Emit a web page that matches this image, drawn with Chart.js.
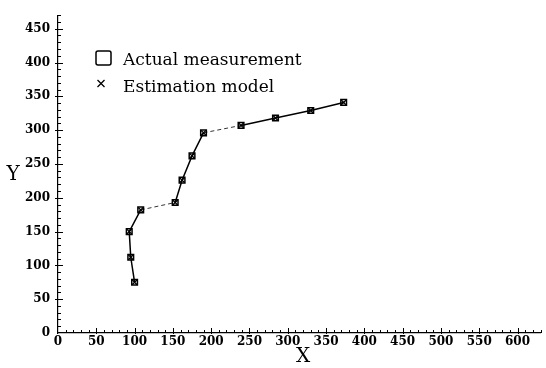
<!DOCTYPE html>
<html>
<head>
<meta charset="utf-8">
<script src="https://cdn.jsdelivr.net/npm/chart.js@4/dist/chart.umd.min.js"></script>
<style>
  html, body { margin: 0; padding: 0; background: #fff; }
  #wrap { width: 546px; height: 368px; position: relative; }
</style>
</head>
<body>
<div id="wrap"><canvas id="chart"></canvas></div>
<script>
// measured points and model points (X, Y)
const xMeasured = [100, 95, 93, 108, 153, 162, 175, 190, 239, 284, 330, 373];
const yMeasured = [75, 112, 150, 182, 193, 226, 262, 296, 307, 318, 329, 341];
const xModel = [100, 95, 93, 108, 153, 162, 175, 190, 239, 284, 330, 373];
const yModel = [75, 112, 150, 182, 193, 226, 262, 296, 307, 318, 329, 341];

// segments drawn dashed (index of segment start)
const dashedSegments = [3, 7];

const legendLabels = ["Actual measurement", "Estimation model"];
const xTickValues = [0, 50, 100, 150, 200, 250, 300, 350, 400, 450, 500, 550, 600];
const yTickValues = [0, 50, 100, 150, 200, 250, 300, 350, 400, 450];
const xRange = [0, 630];
const yRange = [0, 470];
const majorStep = 50;
const minorStep = 10;

const toPoints = (xs, ys) => xs.map((x, i) => ({ x: x, y: ys[i] }));

const tickFont = { family: "DejaVu Serif", size: 12, weight: "bold" };

// inward tick marks + axis titles + legend
const decorations = {
  id: "decorations",
  afterDraw(chart) {
    const ctx = chart.ctx;
    const xs = chart.scales.x, ys = chart.scales.y;
    const left = chart.chartArea.left, bottom = chart.chartArea.bottom;
    ctx.save();
    ctx.strokeStyle = "#000";
    ctx.lineWidth = 1;
    ctx.beginPath();
    for (let v = xRange[0] + minorStep; v <= xRange[1]; v += minorStep) {
      const px = Math.round(xs.getPixelForValue(v)) + 0.5;
      const major = v % majorStep === 0;
      ctx.moveTo(px, bottom + (major ? 1 : 0));
      ctx.lineTo(px, bottom - (major ? 5 : 3));
    }
    for (let v = yRange[0] + minorStep; v <= yRange[1]; v += minorStep) {
      const py = Math.round(ys.getPixelForValue(v)) + 0.5;
      const major = v % majorStep === 0;
      ctx.moveTo(left - (major ? 3 : 0), py);
      ctx.lineTo(left + (major ? 5 : 3), py);
    }
    ctx.stroke();

    // axis titles
    ctx.fillStyle = "#000";
    ctx.font = "20px 'DejaVu Serif'";
    ctx.textAlign = "center";
    ctx.textBaseline = "alphabetic";
    ctx.fillText("Y", 13, 180);
    ctx.fillText("X", 303, 362);

    // legend
    ctx.lineWidth = 1.5;
    ctx.beginPath();
    ctx.roundRect(96, 51, 15, 14, 2);
    ctx.stroke();
    ctx.lineWidth = 1.3;
    ctx.beginPath();
    ctx.moveTo(97.5, 80); ctx.lineTo(104.5, 87);
    ctx.moveTo(104.5, 80); ctx.lineTo(97.5, 87);
    ctx.stroke();
    ctx.font = "17px 'DejaVu Serif'";
    ctx.textAlign = "left";
    ctx.fillText(legendLabels[0], 123, 65);
    ctx.fillText(legendLabels[1], 123, 92);
    ctx.restore();
  }
};

new Chart(document.getElementById("chart"), {
  type: "scatter",
  data: {
    datasets: [
      {
        label: legendLabels[1],
        data: toPoints(xModel, yModel),
        showLine: true,
        borderColor: "#000",
        borderWidth: 1.5,
        segment: {
          borderDash: c => dashedSegments.includes(c.p0DataIndex) ? [4, 3] : undefined,
          borderWidth: c => dashedSegments.includes(c.p0DataIndex) ? 0.8 : 1.5
        },
        pointStyle: "crossRot",
        pointRadius: 3.5,
        pointBorderWidth: 1.3,
        pointBorderColor: "#000",
        order: 1
      },
      {
        label: legendLabels[0],
        data: toPoints(xMeasured, yMeasured),
        showLine: false,
        pointStyle: "rect",
        pointRadius: 4,
        pointBorderWidth: 1.5,
        pointBorderColor: "#000",
        pointBackgroundColor: "rgba(255,255,255,0)",
        order: 0
      }
    ]
  },
  options: {
    responsive: true,
    maintainAspectRatio: false,
    animation: false,
    layout: { padding: { top: 14, right: 4, left: 0, bottom: 0 } },
    plugins: { legend: { display: false }, tooltip: { enabled: false } },
    scales: {
      x: {
        type: "linear",
        min: xRange[0],
        max: xRange[1],
        grid: { display: false, drawTicks: false },
        border: { display: true, color: "#000", width: 1.2 },
        afterBuildTicks: s => { s.ticks = xTickValues.map(v => ({ value: v })); },
        afterFit: s => { s.height = 35; },
        ticks: { color: "#000", font: tickFont, padding: 2, maxRotation: 0, autoSkip: false }
      },
      y: {
        type: "linear",
        min: yRange[0],
        max: yRange[1],
        grid: { display: false, drawTicks: false },
        border: { display: true, color: "#000", width: 1.2 },
        afterBuildTicks: s => { s.ticks = yTickValues.map(v => ({ value: v })); },
        afterFit: s => { s.width = 58; },
        ticks: { color: "#000", font: tickFont, padding: 8, autoSkip: false }
      }
    }
  },
  plugins: [decorations]
});
</script>
</body>
</html>
